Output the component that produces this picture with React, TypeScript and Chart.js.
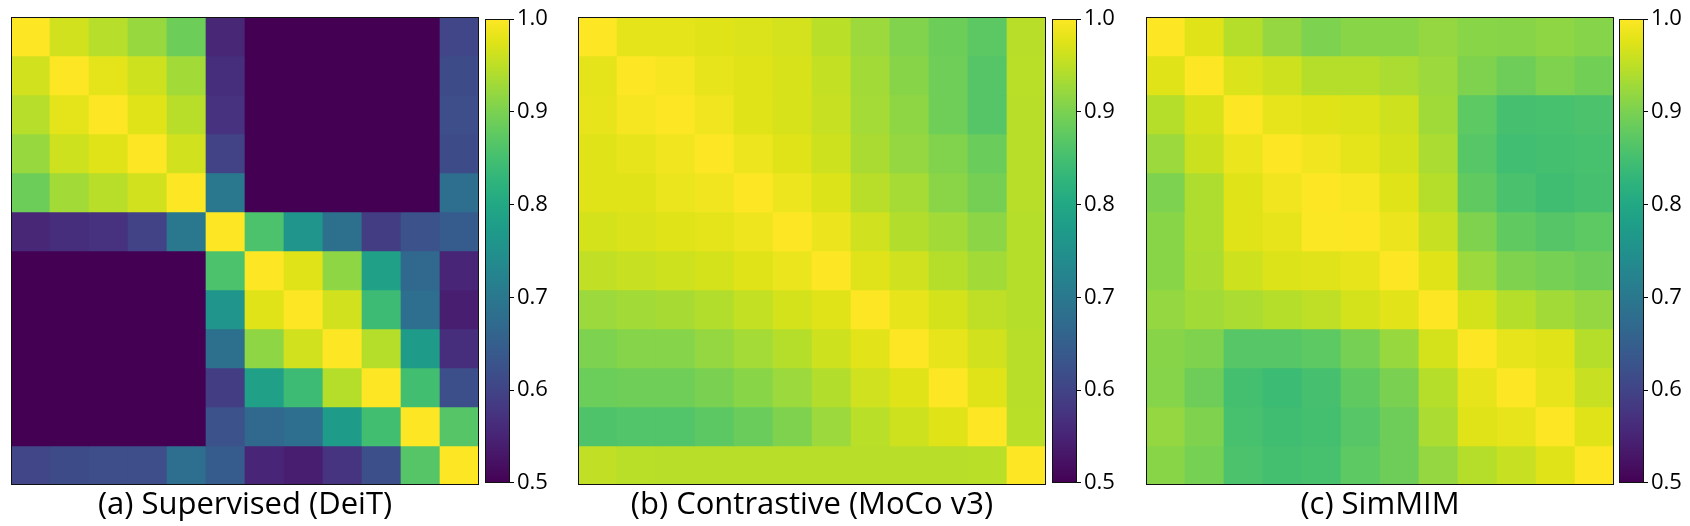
import React, { useEffect, useRef } from "react";
import { Chart, registerables } from "chart.js";

Chart.register(...registerables);

// ---------------- data ----------------
const COLUMN_LABELS = ["1", "2", "3", "4", "5", "6", "7", "8", "9", "10", "11", "12"];

const TITLES = ["(a) Supervised (DeiT)", "(b) Contrastive (MoCo v3)", "(c) SimMIM"];

const COLORBAR_TICKS = [0.5, 0.6, 0.7, 0.8, 0.9, 1.0];
const VMIN = 0.5;
const VMAX = 1.0;

const SUPERVISED: number[][] = [
  [1.0, 0.965, 0.945, 0.922, 0.888, 0.555, 0.5, 0.5, 0.5, 0.5, 0.5, 0.603],
  [0.965, 1.0, 0.98, 0.962, 0.93, 0.566, 0.5, 0.5, 0.5, 0.5, 0.5, 0.612],
  [0.945, 0.98, 1.0, 0.977, 0.946, 0.572, 0.5, 0.5, 0.5, 0.5, 0.5, 0.618],
  [0.922, 0.962, 0.977, 1.0, 0.965, 0.598, 0.5, 0.5, 0.5, 0.5, 0.5, 0.612],
  [0.888, 0.93, 0.946, 0.965, 1.0, 0.7, 0.5, 0.5, 0.5, 0.5, 0.5, 0.68],
  [0.555, 0.566, 0.572, 0.598, 0.7, 1.0, 0.858, 0.758, 0.683, 0.59, 0.625, 0.645],
  [0.5, 0.5, 0.5, 0.5, 0.5, 0.858, 1.0, 0.975, 0.915, 0.785, 0.668, 0.552],
  [0.5, 0.5, 0.5, 0.5, 0.5, 0.758, 0.975, 1.0, 0.965, 0.842, 0.68, 0.542],
  [0.5, 0.5, 0.5, 0.5, 0.5, 0.683, 0.915, 0.965, 1.0, 0.944, 0.772, 0.566],
  [0.5, 0.5, 0.5, 0.5, 0.5, 0.59, 0.785, 0.842, 0.944, 1.0, 0.848, 0.62],
  [0.5, 0.5, 0.5, 0.5, 0.5, 0.625, 0.668, 0.68, 0.772, 0.848, 1.0, 0.866],
  [0.603, 0.612, 0.618, 0.618, 0.68, 0.645, 0.552, 0.542, 0.575, 0.62, 0.866, 1.0],
];

const CONTRASTIVE: number[][] = [
  [1.0, 0.98, 0.98, 0.977, 0.972, 0.966, 0.948, 0.925, 0.905, 0.888, 0.872, 0.947],
  [0.98, 1.0, 0.993, 0.982, 0.975, 0.97, 0.955, 0.93, 0.91, 0.89, 0.866, 0.948],
  [0.982, 0.993, 1.0, 0.99, 0.977, 0.97, 0.957, 0.932, 0.915, 0.89, 0.866, 0.947],
  [0.977, 0.982, 0.99, 1.0, 0.987, 0.975, 0.962, 0.935, 0.92, 0.905, 0.885, 0.946],
  [0.975, 0.977, 0.985, 0.99, 1.0, 0.987, 0.973, 0.947, 0.933, 0.912, 0.895, 0.946],
  [0.967, 0.971, 0.975, 0.98, 0.988, 1.0, 0.986, 0.963, 0.943, 0.93, 0.913, 0.944],
  [0.952, 0.957, 0.962, 0.967, 0.975, 0.985, 1.0, 0.976, 0.963, 0.944, 0.93, 0.944],
  [0.925, 0.93, 0.934, 0.943, 0.955, 0.967, 0.977, 1.0, 0.982, 0.967, 0.951, 0.944],
  [0.902, 0.908, 0.908, 0.92, 0.932, 0.944, 0.962, 0.978, 1.0, 0.982, 0.965, 0.946],
  [0.887, 0.89, 0.89, 0.9, 0.911, 0.925, 0.942, 0.963, 0.975, 1.0, 0.977, 0.946],
  [0.86, 0.863, 0.863, 0.873, 0.885, 0.904, 0.925, 0.948, 0.962, 0.975, 1.0, 0.948],
  [0.952, 0.948, 0.946, 0.946, 0.946, 0.946, 0.946, 0.946, 0.946, 0.946, 0.948, 1.0],
];

const SIMMIM: number[][] = [
  [1.0, 0.975, 0.944, 0.92, 0.902, 0.911, 0.911, 0.92, 0.911, 0.91, 0.915, 0.908],
  [0.975, 1.0, 0.972, 0.962, 0.944, 0.944, 0.936, 0.925, 0.904, 0.889, 0.903, 0.893],
  [0.944, 0.97, 1.0, 0.982, 0.975, 0.973, 0.962, 0.928, 0.874, 0.852, 0.854, 0.858],
  [0.925, 0.96, 0.985, 1.0, 0.99, 0.98, 0.967, 0.936, 0.867, 0.847, 0.85, 0.854],
  [0.902, 0.94, 0.975, 0.99, 1.0, 0.995, 0.975, 0.944, 0.877, 0.856, 0.846, 0.852],
  [0.911, 0.94, 0.975, 0.982, 0.998, 1.0, 0.986, 0.958, 0.903, 0.877, 0.866, 0.874],
  [0.911, 0.936, 0.962, 0.973, 0.976, 0.982, 1.0, 0.975, 0.925, 0.903, 0.896, 0.889],
  [0.92, 0.93, 0.936, 0.944, 0.951, 0.967, 0.978, 1.0, 0.967, 0.944, 0.93, 0.92],
  [0.91, 0.903, 0.867, 0.867, 0.874, 0.896, 0.922, 0.967, 1.0, 0.982, 0.975, 0.944],
  [0.908, 0.889, 0.85, 0.84, 0.852, 0.877, 0.9, 0.944, 0.982, 1.0, 0.982, 0.958],
  [0.92, 0.903, 0.854, 0.846, 0.85, 0.867, 0.889, 0.936, 0.975, 0.982, 1.0, 0.975],
  [0.911, 0.896, 0.858, 0.85, 0.854, 0.874, 0.889, 0.92, 0.944, 0.958, 0.975, 1.0],
];

// ---------------- colormap (viridis) ----------------
const VIRIDIS = [
  "#440154", "#471365", "#482475", "#463480", "#414487", "#3b528b", "#355f8d",
  "#2f6c8e", "#2a788e", "#25848e", "#21918c", "#1e9c89", "#22a884", "#2fb47c",
  "#44bf70", "#5ec962", "#7ad151", "#9bd93c", "#bddf26", "#dfe318", "#fde725",
];

function hexToRgb(h: string): number[] {
  return [1, 3, 5].map((i) => parseInt(h.slice(i, i + 2), 16));
}
const VIRIDIS_RGB = VIRIDIS.map(hexToRgb);

function colorAtFraction(t: number): string {
  const c = Math.max(0, Math.min(1, t));
  const pos = c * (VIRIDIS_RGB.length - 1);
  const i = Math.min(Math.floor(pos), VIRIDIS_RGB.length - 2);
  const f = pos - i;
  const a = VIRIDIS_RGB[i];
  const b = VIRIDIS_RGB[i + 1];
  const rgb = a.map((v, k) => Math.round(v + (b[k] - v) * f));
  return `rgb(${rgb[0]},${rgb[1]},${rgb[2]})`;
}
function viridis(v: number): string {
  return colorAtFraction((v - VMIN) / (VMAX - VMIN));
}

// ---------------- layout ----------------
const FONT_FAMILY = "'Open Sans', 'DejaVu Sans', sans-serif";
const TITLE_SIZE = 31;
const TICK_SIZE = 22;
const PLOT_TOP = 17;
const PLOT_SIZE = 468;
const HEAT_PAD = 4;
const CB_WIDTH = 25;
const CB_PAD_LEFT = 2;
const CB_PAD_V = 14;
const CB_AXIS_W = 40;

const PANELS = [
  { title: TITLES[0], matrix: SUPERVISED, heatLeft: 11, barLeft: 485 },
  { title: TITLES[1], matrix: CONTRASTIVE, heatLeft: 578, barLeft: 1052 },
  { title: TITLES[2], matrix: SIMMIM, heatLeft: 1146, barLeft: 1619 },
];

const framePlugin = {
  id: "frame",
  afterDatasetsDraw(chart: any) {
    const { ctx, chartArea: a } = chart;
    ctx.save();
    ctx.strokeStyle = "#111";
    ctx.lineWidth = 1;
    ctx.strokeRect(
      Math.round(a.left) + 0.5,
      Math.round(a.top) + 0.5,
      Math.round(a.right) - Math.round(a.left) - 1,
      Math.round(a.bottom) - Math.round(a.top) - 1
    );
    ctx.restore();
  },
};

function Heatmap({ matrix, title, left }: { matrix: number[][]; title: string; left: number }) {
  const ref = useRef<HTMLCanvasElement>(null);
  const width = HEAT_PAD * 2 + PLOT_SIZE;
  const height = 526 - (PLOT_TOP - HEAT_PAD);
  const titleLine = TITLE_SIZE * 1.2;
  const titlePadTop = 20 - titleLine / 2;
  const titlePadBottom = height - HEAT_PAD - PLOT_SIZE - titlePadTop - titleLine;

  useEffect(() => {
    const datasets = matrix.map((row, r) => ({
      label: `row ${r + 1}`,
      data: row.map(() => [r, r + 1]),
      backgroundColor: row.map((v) => viridis(v)),
      borderWidth: 0,
      barPercentage: 1,
      categoryPercentage: 1,
      grouped: false,
    }));
    const chart = new Chart(ref.current as HTMLCanvasElement, {
      type: "bar",
      data: { labels: COLUMN_LABELS, datasets: datasets as any },
      options: {
        animation: false,
        responsive: false,
        devicePixelRatio: 1,
        layout: { padding: { left: HEAT_PAD, right: HEAT_PAD, top: HEAT_PAD, bottom: 0 } },
        scales: {
          x: { display: false },
          y: { display: false, min: 0, max: matrix.length, reverse: true },
        },
        plugins: {
          legend: { display: false },
          tooltip: { enabled: false },
          title: {
            display: true,
            text: title,
            position: "bottom",
            color: "#000",
            font: { family: FONT_FAMILY, size: TITLE_SIZE, weight: "normal", lineHeight: 1.2 },
            padding: { top: titlePadTop, bottom: titlePadBottom },
          },
        },
      } as any,
      plugins: [framePlugin],
    });
    return () => chart.destroy();
  }, [matrix, title]);

  return (
    <canvas
      ref={ref}
      width={width}
      height={height}
      style={{ position: "absolute", left: left - HEAT_PAD, top: PLOT_TOP - HEAT_PAD, width, height }}
    />
  );
}

function Colorbar({ left }: { left: number }) {
  const ref = useRef<HTMLCanvasElement>(null);
  const width = CB_PAD_LEFT + CB_WIDTH + CB_AXIS_W;
  const height = CB_PAD_V * 2 + PLOT_SIZE;

  useEffect(() => {
    const chart = new Chart(ref.current as HTMLCanvasElement, {
      type: "bar",
      data: {
        labels: ["colorbar"],
        datasets: [
          {
            data: [[VMIN, VMAX]],
            borderWidth: 0,
            barPercentage: 1,
            categoryPercentage: 1,
            backgroundColor: (ctx: any) => {
              const ch = ctx.chart;
              const ys = ch.scales && ch.scales.y;
              if (!ch.chartArea || !ys) return VIRIDIS[VIRIDIS.length - 1];
              const y0 = ys.getPixelForValue(VMIN);
              const y1 = ys.getPixelForValue(VMAX);
              const g = ch.ctx.createLinearGradient(0, y0, 0, y1);
              VIRIDIS.forEach((c, i) => g.addColorStop(i / (VIRIDIS.length - 1), c));
              return g;
            },
          },
        ] as any,
      },
      options: {
        animation: false,
        responsive: false,
        devicePixelRatio: 1,
        layout: { padding: { left: CB_PAD_LEFT, right: 0, top: CB_PAD_V, bottom: CB_PAD_V } },
        scales: {
          x: { display: false },
          y: {
            position: "right",
            min: VMIN,
            max: VMAX,
            afterFit: (s: any) => {
              s.width = CB_AXIS_W;
            },
            afterBuildTicks: (s: any) => {
              s.ticks = COLORBAR_TICKS.map((v) => ({ value: v }));
            },
            ticks: {
              color: "#000",
              padding: 3,
              font: { family: FONT_FAMILY, size: TICK_SIZE },
              callback: (v: any) => Number(v).toFixed(1),
            },
            grid: { drawOnChartArea: false, drawTicks: true, tickLength: 4, color: "#000" },
            border: { display: false },
          },
        },
        plugins: { legend: { display: false }, tooltip: { enabled: false } },
      } as any,
      plugins: [framePlugin],
    });
    return () => chart.destroy();
  }, []);

  return (
    <canvas
      ref={ref}
      width={width}
      height={height}
      style={{ position: "absolute", left: left - CB_PAD_LEFT, top: PLOT_TOP - CB_PAD_V, width, height }}
    />
  );
}

export default function App() {
  return (
    <div
      style={{
        position: "absolute",
        left: 0,
        top: 0,
        width: 1690,
        height: 526,
        overflow: "hidden",
        background: "#fff",
      }}
    >
      {PANELS.map((p, i) => (
        <React.Fragment key={i}>
          <Heatmap matrix={p.matrix} title={p.title} left={p.heatLeft} />
          <Colorbar left={p.barLeft} />
        </React.Fragment>
      ))}
    </div>
  );
}
